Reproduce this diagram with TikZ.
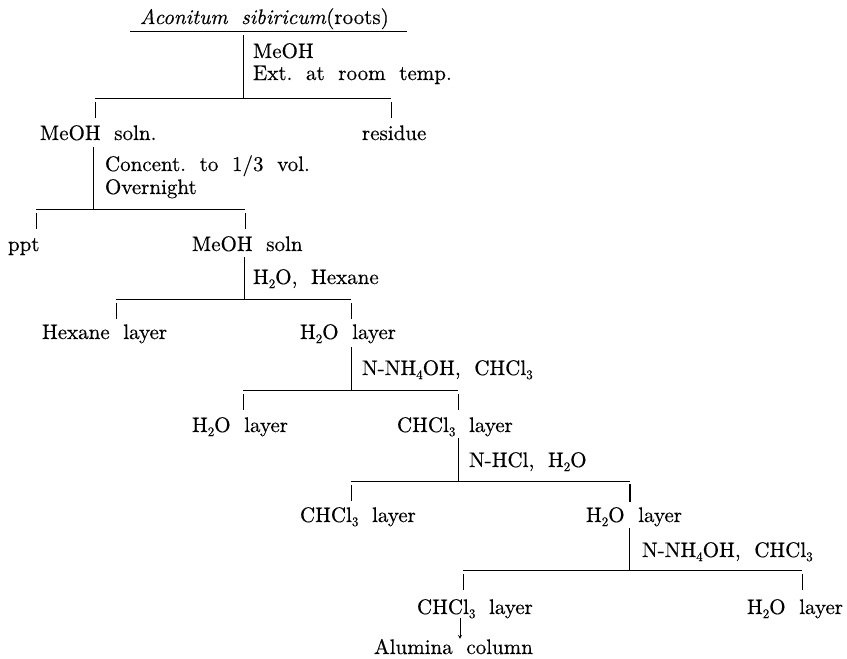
\documentclass[tikz,border=0pt]{standalone}
\usepackage{fontspec}
\setmainfont{lmroman10-regular}[Extension=.otf, ItalicFont=lmroman10-italic, FakeBold=0.4]
\usepackage{tikz}
\usetikzlibrary{arrows,calc,positioning}
\newcommand{\flowfont}{\fontsize{21}{23}\selectfont\spaceskip 0.65em plus 0.1em\relax}
\tikzstyle{txt}  =[anchor=base west, inner sep=0pt, outer sep=0pt, font=\flowfont]
\tikzstyle{edge} =[line width=0.8pt]
\newcommand{\chsub}[1]{\raisebox{-0.45ex}{\fontsize{13}{13}\selectfont #1}}

\begin{document}
\begin{tikzpicture}[x=1pt, y=-1pt]
    \useasboundingbox (0,0) rectangle (847,659);

    % texts
    \node[txt] (root) at (140,24) {\textit{Aconitum sibiricum}(roots)};
    \node[txt] (c1a)  at (253,58) {MeOH};
    \node[txt] (c1b)  at (253,80) {Ext.\ at room temp.};
    \node[txt] (sol1) at (40,140) {MeOH soln.};
    \node[txt] (res)  at (362,140) {residue};
    \node[txt] (c2a)  at (105,171) {Concent.\ to 1/3 vol.};
    \node[txt] (c2b)  at (105,194) {Overnight};
    \node[txt] (ppt)  at (8,251) {ppt};
    \node[txt] (sol2) at (192,251) {MeOH soln};
    \node[txt] (c3)   at (253,284) {H\chsub{2}O, Hexane};
    \node[txt] (hex)  at (42,339) {Hexane layer};
    \node[txt] (aq1)  at (300,339) {H\chsub{2}O layer};
    \node[txt] (c4)   at (362,375) {N-NH\chsub{4}OH, CHCl\chsub{3}};
    \node[txt] (aq2)  at (192,432) {H\chsub{2}O layer};
    \node[txt] (chl1) at (397,432) {CHCl\chsub{3} layer};
    \node[txt] (c5)   at (469,467) {N-HCl, H\chsub{2}O};
    \node[txt] (chl2) at (300,522) {CHCl\chsub{3} layer};
    \node[txt] (aq3)  at (586,522) {H\chsub{2}O layer};
    \node[txt] (c6)   at (642,557) {N-NH\chsub{4}OH, CHCl\chsub{3}};
    \node[txt] (chl3) at (417,614) {CHCl\chsub{3} layer};
    \node[txt] (aq4)  at (747,614) {H\chsub{2}O layer};
    \node[txt] (alum) at (374,654) {Alumina column};

    \draw[edge] (130,31) -- (407,31);

    % splits: number/stem x/stem top/bar y/left end/right end
    \foreach \n/\vx/\vt/\by/\lx/\rx in {1/243/35/98/95/391, 2/93/147/209/36/245,
                3/244/257/299/116/351, 4/351/347/390/243/458,
                5/458/438/481/351/630, 6/629/528/570/463/802}{
        \coordinate (j\n) at (\vx,\by);
        \coordinate (l\n) at (\lx,\by);
        \coordinate (r\n) at (\rx,\by);
        \draw[edge] (\vx,\vt) -- (j\n);
        \draw[edge] (l\n) -- (r\n);
        \draw[edge] ($(l\n)+(0,4)$) -- ++(0,16);
        \draw[edge] ($(r\n)+(0,4)$) -- ++(0,16);
    }
    \draw[line width=2pt] ($(r5)+(0,3)$) -- ++(0,18);

    \coordinate (a0) at (460,618);
    \draw[edge, ->, >=stealth] (a0) -- (a0 |- alum.north);
\end{tikzpicture}
\end{document}
